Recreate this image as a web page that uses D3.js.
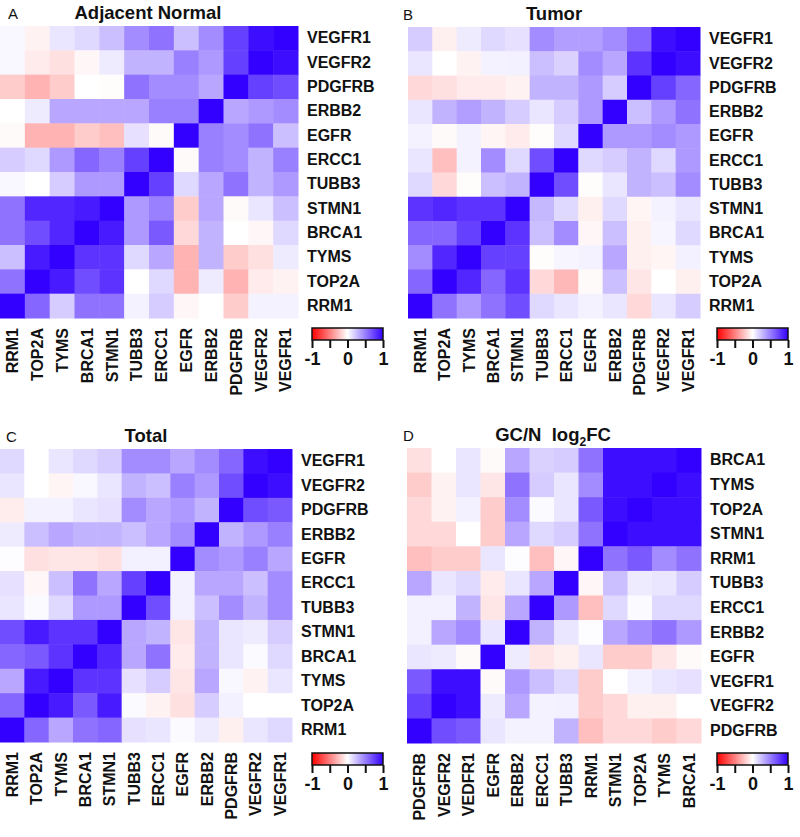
<!DOCTYPE html>
<html><head><meta charset="utf-8">
<script src="https://cdn.jsdelivr.net/npm/d3@7/dist/d3.min.js"></script>
<style>
html,body{margin:0;padding:0;background:#fff;}
svg{display:block;font-family:"Liberation Sans",Arial,sans-serif;}
</style></head>
<body><svg id="c" width="800" height="837"></svg>
<script>
// ---- Data ----
const colsABC = ["RRM1","TOP2A","TYMS","BRCA1","STMN1","TUBB3","ERCC1","EGFR","ERBB2","PDGFRB","VEGFR2","VEGFR1"];
const rowsABC = ["VEGFR1","VEGFR2","PDGFRB","ERBB2","EGFR","ERCC1","TUBB3","STMN1","BRCA1","TYMS","TOP2A","RRM1"];
const colsD = ["PDGFRB","VEGFR2","VEDFR1","EGFR","ERBB2","ERCC1","TUBB3","RRM1","STMN1","TOP2A","TYMS","BRCA1"];
const rowsD = ["BRCA1","TYMS","TOP2A","STMN1","RRM1","TUBB3","ERCC1","ERBB2","EGFR","VEGFR1","VEGFR2","PDGFRB"];
const legendTicks = [-1,-0.5,0,0.5,1];
const legendLabels = [-1,0,1];

const valsA = [
 [0.03,-0.05,0.1,0.15,0.25,0.45,0.55,0.25,0.45,0.75,0.95,1.0],
 [0.03,-0.08,-0.12,-0.03,0.08,0.3,0.3,0.5,0.4,0.75,1.0,0.95],
 [-0.2,-0.3,-0.2,0.0,-0.01,0.55,0.45,0.45,0.35,1.0,0.75,0.7],
 [0.0,0.08,0.35,0.35,0.35,0.35,0.5,0.5,1.0,0.35,0.4,0.45],
 [-0.02,-0.3,-0.3,-0.2,-0.25,0.12,-0.02,1.0,0.5,0.45,0.55,0.25],
 [0.2,0.15,0.4,0.6,0.5,0.75,1.0,-0.02,0.5,0.45,0.3,0.5],
 [0.03,0.0,0.2,0.4,0.4,1.0,0.75,0.15,0.35,0.55,0.3,0.4],
 [0.55,0.85,0.85,0.9,1.0,0.4,0.5,-0.2,0.35,-0.02,0.1,0.25],
 [0.55,0.7,0.85,1.0,0.9,0.4,0.65,-0.15,0.3,0.0,-0.03,0.15],
 [0.25,0.9,1.0,0.8,0.8,0.15,0.35,-0.3,0.3,-0.2,-0.12,0.08],
 [0.55,1.0,0.9,0.7,0.8,0.0,0.15,-0.3,0.08,-0.3,-0.08,-0.05],
 [1.0,0.6,0.2,0.55,0.55,0.05,0.2,-0.03,0.0,-0.2,0.05,0.05]
];
const valsB = [
 [0.2,-0.06,0.08,0.15,0.12,0.45,0.38,0.38,0.45,0.6,0.95,1.0],
 [0.1,0.0,-0.05,0.05,0.06,0.25,0.18,0.45,0.35,0.8,1.0,0.95],
 [-0.15,-0.12,-0.08,-0.08,-0.05,0.3,0.3,0.4,0.2,1.0,0.75,0.6],
 [0.1,0.3,0.38,0.3,0.2,0.1,0.2,0.4,1.0,0.25,0.4,0.55],
 [0.05,-0.02,0.05,-0.04,-0.08,-0.01,0.15,1.0,0.4,0.4,0.45,0.4],
 [0.1,-0.25,0.05,0.45,0.15,0.7,1.0,0.15,0.2,0.3,0.15,0.4],
 [0.15,-0.15,-0.01,0.25,0.3,1.0,0.7,-0.01,0.1,0.3,0.25,0.45],
 [0.8,0.85,0.8,0.8,1.0,0.28,0.15,-0.06,0.15,-0.04,0.05,0.1],
 [0.6,0.6,0.75,1.0,0.8,0.25,0.45,-0.03,0.25,-0.06,0.04,0.15],
 [0.45,0.85,1.0,0.75,0.75,-0.01,0.04,0.05,0.35,-0.06,-0.04,0.06],
 [0.6,1.0,0.85,0.6,0.8,-0.15,-0.28,-0.02,0.25,-0.1,0.0,-0.06],
 [1.0,0.55,0.4,0.55,0.7,0.15,0.1,0.05,0.1,-0.15,0.1,0.2]
];
const valsC = [
 [0.15,0.0,0.1,0.15,0.2,0.45,0.45,0.35,0.45,0.6,0.95,1.0],
 [0.1,0.0,-0.04,0.03,0.1,0.3,0.25,0.5,0.4,0.7,1.0,0.95],
 [-0.07,0.05,0.05,0.1,0.12,0.45,0.35,0.4,0.3,1.0,0.7,0.65],
 [0.08,0.25,0.35,0.3,0.3,0.25,0.35,0.45,1.0,0.3,0.4,0.5],
 [0.01,-0.12,-0.1,-0.1,-0.12,0.06,0.06,1.0,0.45,0.4,0.5,0.35],
 [0.12,-0.03,0.25,0.55,0.35,0.75,1.0,0.06,0.35,0.35,0.25,0.45],
 [0.1,0.02,0.15,0.4,0.4,1.0,0.7,0.06,0.25,0.45,0.3,0.45],
 [0.7,0.9,0.8,0.8,1.0,0.35,0.3,-0.1,0.3,0.1,0.08,0.2],
 [0.6,0.65,0.8,1.0,0.85,0.35,0.55,-0.08,0.3,0.1,0.02,0.15],
 [0.35,0.9,1.0,0.8,0.8,0.12,0.2,-0.1,0.35,0.03,-0.05,0.1],
 [0.6,1.0,0.9,0.65,0.9,0.02,-0.05,-0.12,0.2,0.06,0.0,0.0],
 [1.0,0.6,0.35,0.55,0.6,0.12,0.1,0.02,0.08,-0.06,0.1,0.15]
];
const valsD = [
 [-0.12,0.0,0.1,-0.02,0.35,0.18,0.2,0.55,0.95,0.95,0.95,1.0],
 [-0.2,-0.05,0.1,-0.1,0.55,0.2,0.1,0.45,0.95,0.95,1.0,0.95],
 [-0.15,-0.05,0.06,-0.2,0.45,0.02,0.1,0.65,0.95,1.0,0.95,0.95],
 [-0.15,-0.15,0.0,-0.2,0.35,0.15,0.2,0.55,1.0,0.95,0.95,0.95],
 [-0.25,-0.2,-0.2,0.1,0.01,-0.25,-0.03,1.0,0.55,0.65,0.45,0.55],
 [0.35,0.1,0.15,-0.08,0.1,0.35,1.0,-0.03,0.25,0.08,0.1,0.2],
 [0.06,0.06,0.3,-0.1,0.35,1.0,0.4,-0.25,0.15,0.02,0.15,0.15],
 [0.06,0.35,0.45,0.1,1.0,0.3,0.1,0.01,0.35,0.45,0.55,0.4],
 [0.1,0.08,-0.02,1.0,0.08,-0.1,-0.06,0.1,-0.2,-0.2,-0.1,-0.02],
 [0.65,0.95,0.95,-0.02,0.4,0.25,0.15,-0.2,0.0,0.06,0.1,0.12],
 [0.75,1.0,0.95,0.08,0.35,0.05,0.06,-0.2,-0.15,-0.06,-0.06,0.0],
 [1.0,0.7,0.65,0.1,0.05,0.05,0.3,-0.25,-0.15,-0.15,-0.2,-0.15]
];

// ---- Drawing ----
const svg = d3.select("#c");
const color = d3.scaleLinear().domain([-1,0,1]).range(["#ff0000","#ffffff","#3300ff"]).interpolate(d3.interpolateRgb);

const defs = svg.append("defs");
const grad = defs.append("linearGradient").attr("id","lg").attr("x1","0%").attr("x2","100%");
d3.range(0,1.0001,0.1).forEach(t=>{
  grad.append("stop").attr("offset",(t*100)+"%").attr("stop-color",color(-1+2*t));
});

const panels = [
  {letter:"A", title:"Adjacent Normal", vals:valsA, cols:colsABC, rows:rowsABC, x0:0, x1:298, y0:26, y1:318, tx:148, lx:8, leg:[312,328]},
  {letter:"B", title:"Tumor", vals:valsB, cols:colsABC, rows:rowsABC, x0:408, x1:700, y0:27, y1:318, tx:554, lx:403, leg:[717,328]},
  {letter:"C", title:"Total", vals:valsC, cols:colsABC, rows:rowsABC, x0:0, x1:292, y0:449, y1:742, tx:146, lx:6, leg:[312,753]},
  {letter:"D", title:"GC/N", vals:valsD, cols:colsD, rows:rowsD, x0:407, x1:701, y0:448, y1:743, tx:553, lx:403, leg:[717,753], sub:true}
];

panels.forEach(p=>{
  const g = svg.append("g");
  const x = d3.scaleBand().domain(p.cols).range([p.x0,p.x1]);
  const y = d3.scaleBand().domain(p.rows).range([p.y0,p.y1]);
  const cells = [];
  p.rows.forEach((r,i)=>p.cols.forEach((c,j)=>cells.push({r,c,v:p.vals[i][j]})));
  g.selectAll("rect.cell").data(cells).join("rect").attr("class","cell")
    .attr("x",d=>x(d.c)).attr("y",d=>y(d.r))
    .attr("width",x.bandwidth()+0.5).attr("height",y.bandwidth()+0.5)
    .attr("fill",d=>color(d.v));

  // row labels (right)
  const ya = d3.axisRight(y).tickSize(0).tickPadding(0);
  const yg = g.append("g").attr("transform",`translate(${p.x1+9},0)`).call(ya);
  yg.select(".domain").remove();
  yg.selectAll("text").attr("font-size",16).attr("font-weight","bold").attr("fill","#111")
    .attr("font-family","'Liberation Sans',Arial,sans-serif");

  // column labels (bottom, rotated)
  const xa = d3.axisBottom(x).tickSize(0).tickPadding(0);
  const xg = g.append("g").attr("transform",`translate(0,${p.y1+10})`).call(xa);
  xg.select(".domain").remove();
  xg.selectAll("text").attr("font-size",16).attr("font-weight","bold").attr("fill","#111")
    .attr("font-family","'Liberation Sans',Arial,sans-serif")
    .attr("transform","rotate(-90)").attr("text-anchor","end")
    .attr("x",0).attr("y",0).attr("dy","0.36em");

  // title
  const t = svg.append("text").attr("x",p.tx).attr("y",p.y0-7).attr("text-anchor","middle")
    .attr("font-size",18.5).attr("font-weight","bold").attr("fill","#111")
    .style("white-space","pre");
  if(p.sub){
    t.append("tspan").text("GC/N\u00a0\u00a0log");
    t.append("tspan").text("2").attr("font-size",12).attr("dy",5);
    t.append("tspan").text("FC").attr("dy",-5);
  } else t.text(p.title);
  svg.append("text").attr("x",p.lx).attr("y",p.y0-7).attr("font-size",15).attr("fill","#111").text(p.letter);

  // legend
  const lw = 71, lh = 12;
  const lg = svg.append("g").attr("transform",`translate(${p.leg[0]},${p.leg[1]})`);
  lg.append("rect").attr("width",lw).attr("height",lh).attr("fill","url(#lg)")
    .attr("stroke","#111").attr("stroke-width",1.5);
  const ls = d3.scaleLinear().domain([-1,1]).range([0,lw]);
  const la = d3.axisBottom(ls).tickValues(legendTicks).tickSize(8).tickPadding(4)
    .tickFormat(d=>legendLabels.includes(d)? String(d).replace("\u2212","-") : "");
  const lag = lg.append("g").attr("transform",`translate(0,${lh})`).call(la);
  lag.select(".domain").remove();
  lag.selectAll(".tick line").attr("stroke","#111").attr("stroke-width",2);
  lag.selectAll("text").attr("font-size",18).attr("font-weight","bold").attr("fill","#111")
    .attr("font-family","'Liberation Sans',Arial,sans-serif");
});
</script>
</body></html>
